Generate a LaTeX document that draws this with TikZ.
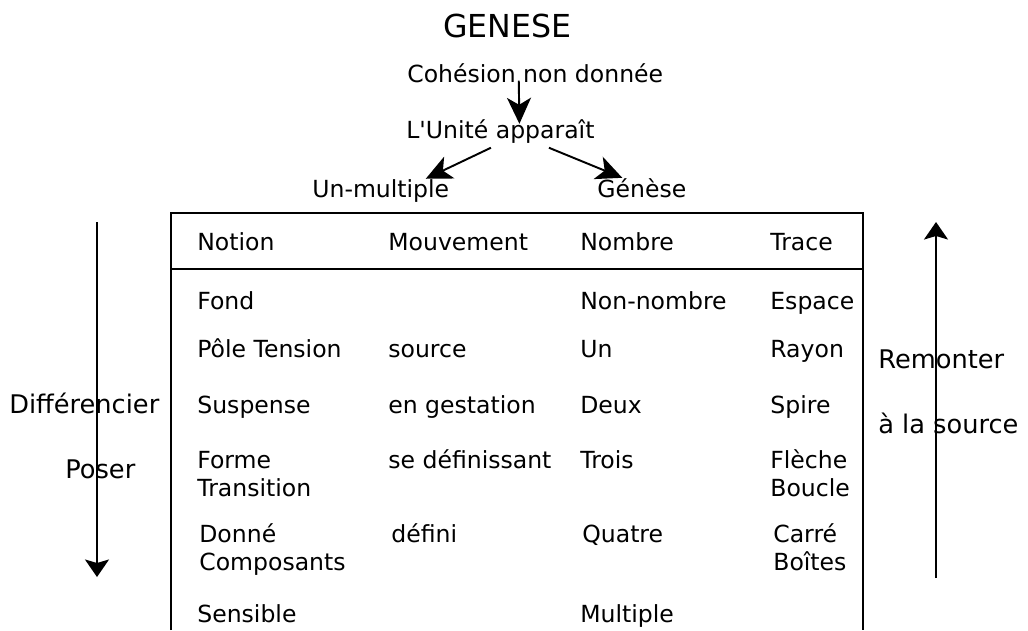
\documentclass[tikz,border=0pt]{standalone}
\usepackage{fontspec}
\setmainfont{DejaVu Sans}
\usetikzlibrary{arrows.meta}

\tikzset{
  txt/.style={inner sep=0, anchor=base west, align=left,
    font=\fontsize{13.4}{15.9}\selectfont},
  side/.style={txt, font=\fontsize{14.6}{17}\selectfont},
  arr/.style={-{Stealth[length=0.52cm,width=0.48cm,inset=0.14cm]}, line width=1.1pt},
  sidearr/.style={-{Stealth[length=0.35cm,width=0.48cm,inset=0.07cm]}, line width=1.1pt},
}

\begin{document}
\begin{tikzpicture}
		\useasboundingbox (0,0) rectangle (20.56,12.6);

		% top part
		\node[txt, font=\fontsize{18}{21}\selectfont] (titre) at (8.86,11.86) {GENESE};
		\node[txt] (coh) at (8.14,10.96) {Cohésion non donnée};
		\node[txt] (unite) at (8.12,9.84) {L\textquotesingle Unité apparaît};
		\node[txt] (unmult) at (6.24,8.66) {Un-multiple};
		\node[txt] (genese) at (11.94,8.66) {Génèse};

		\draw[arr] ([xshift=-0.33cm,yshift=0.04cm]coh.south) -- ([xshift=0.38cm,yshift=-0.1cm]unite.north);
		\draw[arr] ([xshift=-0.19cm,yshift=-0.09cm]unite.south) -- ([xshift=0.9cm]unmult.north);
		\draw[arr] ([xshift=0.97cm,yshift=-0.09cm]unite.south) -- ([xshift=-0.39cm]genese.north);

		% table
		\draw[line width=1.1pt] (3.42,0) -- (3.42,8.34) -- (17.26,8.34) -- (17.26,0);
		\draw[line width=1.1pt] (3.42,7.22) -- (17.26,7.22);

		\node[txt] (notion) at (3.94,7.6) {Notion};
		\node[txt] (mouv) at (7.76,7.6) {Mouvement};
		\node[txt] (nombre) at (11.6,7.6) {Nombre};
		\node[txt] (trace) at (15.4,7.6) {Trace};

		\node[txt] (fond) at (3.94,6.42) {Fond};
		\node[txt] (nonnb) at (11.6,6.42) {Non-nombre};
		\node[txt] (espace) at (15.4,6.42) {Espace};

		\node[txt] (pole) at (3.94,5.46) {Pôle Tension};
		\node[txt] (source) at (7.76,5.46) {source};
		\node[txt] (un) at (11.6,5.46) {Un};
		\node[txt] (rayon) at (15.4,5.46) {Rayon};

		\node[txt] (susp) at (3.94,4.34) {Suspense};
		\node[txt] (gest) at (7.76,4.34) {en gestation};
		\node[txt] (deux) at (11.6,4.34) {Deux};
		\node[txt] (spire) at (15.4,4.34) {Spire};

		% two-line cells: base = last line
		\node[txt] (forme) at (3.94,2.68) {Forme\\Transition};
		\node[txt] (sedef) at (7.76,3.24) {se définissant};
		\node[txt] (trois) at (11.6,3.24) {Trois};
		\node[txt] (fleche) at (15.4,2.68) {Flèche\\Boucle};

		\node[txt] (donne) at (3.98,1.2) {Donné\\Composants};
		\node[txt] (defini) at (7.82,1.76) {défini};
		\node[txt] (quatre) at (11.64,1.76) {Quatre};
		\node[txt] (carre) at (15.46,1.2) {Carré\\Boîtes};

		\node[txt] (sensible) at (3.94,0.16) {Sensible};
		\node[txt] (multiple) at (11.6,0.16) {Multiple};

		% side arrows
		\coordinate (dhaut) at (1.94,8.16);
		\coordinate (dbas) at (1.94,1.06);
		\coordinate (rbas) at (18.72,1.04);
		\coordinate (rhaut) at (18.72,8.16);
		\draw[sidearr] (dhaut) -- (dbas);
		\draw[sidearr] (rbas) -- (rhaut);

		\node[side] (diff) at (0.18,4.34) {Différencier};
		\node[side] (poser) at (1.3,3.04) {Poser};
		\node[side] (remonter) at (17.56,5.24) {Remonter};
		\node[side] (alasource) at (17.56,3.94) {à la source};
	\end{tikzpicture}
\end{document}
